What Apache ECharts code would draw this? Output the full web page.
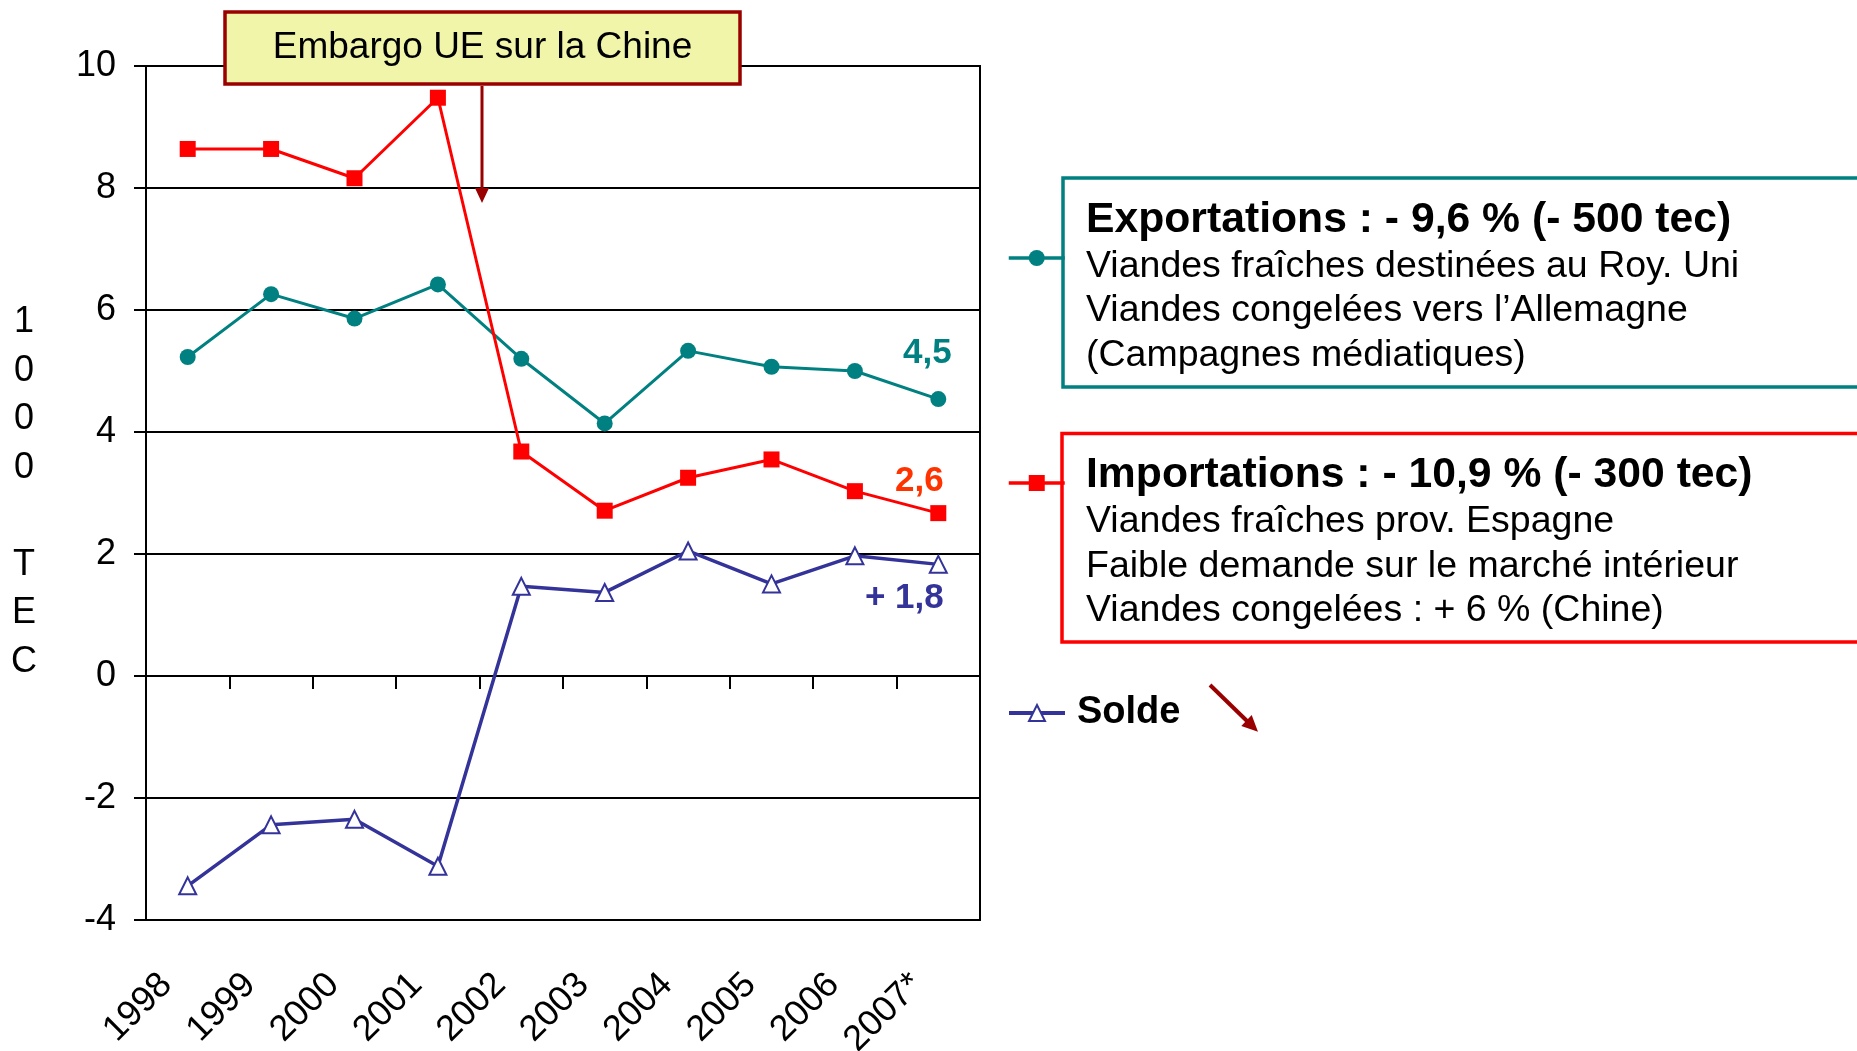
<!DOCTYPE html>
<html>
<head>
<meta charset="utf-8">
<script src="https://cdn.jsdelivr.net/npm/echarts@6/dist/echarts.min.js"></script>
<style>
html,body{margin:0;padding:0;background:#fff;}
#c{width:1857px;height:1051px;}
</style>
</head>
<body>
<div id="c"></div>
<script>
// ---- data ----
const categories = ['1998','1999','2000','2001','2002','2003','2004','2005','2006','2007*'];
const exportations = [5.23, 6.26, 5.86, 6.42, 5.20, 4.14, 5.33, 5.07, 5.00, 4.54];
const importations = [8.64, 8.64, 8.16, 9.48, 3.68, 2.71, 3.25, 3.55, 3.03, 2.67];
const solde = [-3.44, -2.44, -2.35, -3.12, 1.47, 1.37, 2.05, 1.51, 1.97, 1.83];
const seriesNames = ['Exportations', 'Importations', 'Solde'];
const endLabels = ['4,5', '2,6', '+ 1,8'];
const yTitle = '1\n0\n0\n0\n\nT\nE\nC';
const embargoText = 'Embargo UE sur la Chine';
const exportText = ['Exportations : - 9,6 % (- 500 tec)', 'Viandes fraîches destinées au Roy. Uni', 'Viandes congelées vers l\u2019Allemagne', '(Campagnes médiatiques)'];
const importText = ['Importations : - 10,9 % (- 300 tec)', 'Viandes fraîches prov. Espagne', 'Faible demande sur le marché intérieur', 'Viandes congelées : + 6 % (Chine)'];

const FF = '"Liberation Sans", Arial, sans-serif';
const TEAL = '#008080', RED = '#FF0000', BLUE = '#333399', DARKRED = '#990000';

function withEndLabel(values, text, color, offset) {
  return values.map((v, i) => i === values.length - 1 ? {
    value: v,
    label: { show: true, formatter: text, position: 'inside', offset: offset,
      color: color, fontSize: 35, fontWeight: 'bold', fontFamily: FF }
  } : v);
}

const chart = echarts.init(document.getElementById('c'), null, { renderer: 'canvas' });

const legendBase = {
  orient: 'horizontal', padding: 0, itemWidth: 56, itemHeight: 20, selectedMode: false,
  textStyle: { fontFamily: FF, fontSize: 38, fontWeight: 'bold', color: '#000', lineHeight: 20 }
};

function boxTexts(lines, x, yTitleMid, yFirst, step) {
  const arr = [];
  lines.forEach((t, i) => {
    arr.push({
      type: 'text', z: 101,
      style: {
        text: t, x: x, y: i === 0 ? yTitleMid : yFirst + (i - 1) * step,
        fill: '#000', align: 'left', verticalAlign: 'middle',
        fontFamily: FF, fontSize: i === 0 ? 42.7 : 37.5, fontWeight: i === 0 ? 'bold' : 'normal'
      }
    });
  });
  return arr;
}

const option = {
  backgroundColor: '#fff',
  animation: false,
  grid: { left: 146, right: 877, top: 66, bottom: 131, show: true, borderColor: '#000', borderWidth: 2,
          containLabel: false, outerBoundsMode: 'none' },
  xAxis: [
    {
      type: 'category', data: categories, boundaryGap: true, position: 'bottom',
      axisLine: { show: true, onZero: false, lineStyle: { color: '#000', width: 2 } },
      axisTick: { show: false },
      axisLabel: { interval: 0, rotate: 45, fontSize: 36, fontFamily: FF, color: '#000',
                   margin: 38, padding: [0, 30, 0, 0] },
      splitLine: { show: false }
    },
    {
      type: 'category', data: categories, boundaryGap: true, position: 'bottom',
      axisLine: { show: true, onZero: true, lineStyle: { color: '#000', width: 2 } },
      axisTick: { show: true, interval: 0, length: 13, lineStyle: { color: '#000', width: 2 } },
      axisLabel: { show: false },
      splitLine: { show: false }
    }
  ],
  yAxis: {
    type: 'value', min: -4, max: 10, interval: 2,
    axisLine: { show: true, lineStyle: { color: '#000', width: 2 } },
    axisTick: { show: true, length: 12, lineStyle: { color: '#000', width: 2 } },
    axisLabel: { color: '#000', fontSize: 36, fontFamily: FF, margin: 30 },
    splitLine: { show: true, lineStyle: { color: '#000', width: 2 } }
  },
  legend: [
    Object.assign({}, legendBase, { data: [seriesNames[0]], left: 1007, top: 250, formatter: () => '',
      lineStyle: { width: 3.5 } }),
    Object.assign({}, legendBase, { data: [seriesNames[1]], left: 1007, top: 475, formatter: () => '',
      lineStyle: { width: 3.5 } }),
    Object.assign({}, legendBase, { data: [seriesNames[2]], left: 1007, top: 694,
      lineStyle: { width: 4 },
      textStyle: Object.assign({}, legendBase.textStyle, { padding: [0, 0, 0, 7] }) })
  ],
  series: [
    {
      name: seriesNames[0], type: 'line', xAxisIndex: 0,
      data: withEndLabel(exportations, endLabels[0], TEAL, [-11, -46]),
      symbol: 'circle', symbolSize: 16,
      lineStyle: { color: TEAL, width: 3 }, itemStyle: { color: TEAL }, z: 3
    },
    {
      name: seriesNames[1], type: 'line', xAxisIndex: 0,
      data: withEndLabel(importations, endLabels[1], '#FF3300', [-19, -32]),
      symbol: 'rect', symbolSize: 16,
      lineStyle: { color: RED, width: 3 }, itemStyle: { color: RED }, z: 4
    },
    {
      name: seriesNames[2], type: 'line', xAxisIndex: 0,
      data: withEndLabel(solde, endLabels[2], BLUE, [-34, 34]),
      symbol: 'emptyTriangle', symbolSize: 17,
      lineStyle: { color: BLUE, width: 3.5 }, itemStyle: { color: BLUE, borderColor: BLUE, borderWidth: 2 }, z: 5
    }
  ],
  graphic: [
    // y-axis title
    { type: 'text', z: 100, style: { text: yTitle, x: 24, y: 492, align: 'center', verticalAlign: 'middle',
        fontFamily: FF, fontSize: 36, lineHeight: 48.5, fill: '#000' } },
    // embargo annotation
    { type: 'rect', z: 100, shape: { x: 225, y: 12, width: 515, height: 72 },
      style: { fill: '#F0F5AA', stroke: DARKRED, lineWidth: 3.5 } },
    { type: 'text', z: 101, style: { text: embargoText, x: 482.5, y: 48, align: 'center', verticalAlign: 'middle',
        fontFamily: FF, fontSize: 37, fill: '#000' } },
    { type: 'line', z: 100, shape: { x1: 482, y1: 86, x2: 482, y2: 190 },
      style: { stroke: DARKRED, lineWidth: 3 } },
    { type: 'polygon', z: 100, shape: { points: [[475, 188], [489, 188], [482, 203]] },
      style: { fill: DARKRED } },
    // exportations box
    { type: 'rect', z: 100, shape: { x: 1063, y: 178, width: 900, height: 209 },
      style: { fill: 'none', stroke: TEAL, lineWidth: 3.5 } },
    // importations box
    { type: 'rect', z: 100, shape: { x: 1062, y: 433.5, width: 900, height: 208.5 },
      style: { fill: 'none', stroke: RED, lineWidth: 3.5 } },
    // solde arrow
    { type: 'line', z: 100, shape: { x1: 1210, y1: 685, x2: 1247, y2: 721 },
      style: { stroke: DARKRED, lineWidth: 4 } },
    { type: 'polygon', z: 100, shape: { points: [[1241.3, 725.9], [1251.7, 715.1], [1258, 731.7]] },
      style: { fill: DARKRED } }
  ].concat(boxTexts(exportText, 1086, 220, 266.5, 44.5))
   .concat(boxTexts(importText, 1086, 475, 522, 44.5))
};

chart.setOption(option);
</script>
</body>
</html>
